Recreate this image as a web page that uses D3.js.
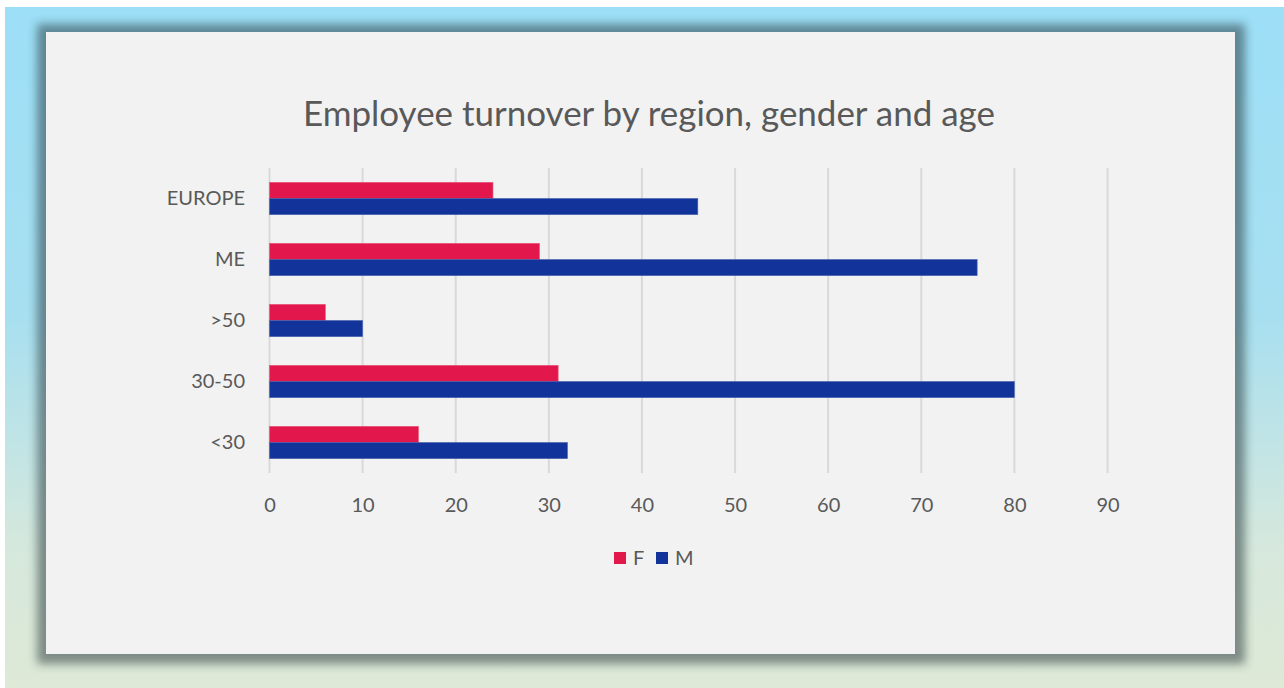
<!DOCTYPE html>
<html><head><meta charset="utf-8">
<script src="https://cdn.jsdelivr.net/npm/d3@7/dist/d3.min.js"></script>
<style>body{margin:0;background:#fff;}svg{display:block;}</style>
</head><body>
<script>
const categories = ["EUROPE", "ME", ">50", "30-50", "<30"];
const seriesNames = ["F", "M"];
const femaleValues = [24, 29, 6, 31, 16];
const maleValues = [46, 76, 10, 80, 32];
const xTicks = [0, 10, 20, 30, 40, 50, 60, 70, 80, 90];
const colors = {F: "#e2184c", M: "#12339a"};
const title = "Employee turnover by region, gender and age";

const W = 1284, H = 688;
const svg = d3.select("body").append("svg").attr("width", W).attr("height", H);
const defs = svg.append("defs");
const grad = defs.append("linearGradient").attr("id","bg").attr("x1",0).attr("y1",0).attr("x2",0).attr("y2",1);
grad.append("stop").attr("offset","0%").attr("stop-color","#9ddff7");
grad.append("stop").attr("offset","45%").attr("stop-color","#a7dff0");
grad.append("stop").attr("offset","80%").attr("stop-color","#d6e8dc");
grad.append("stop").attr("offset","100%").attr("stop-color","#dee9d6");
const blur = defs.append("filter").attr("id","blur").attr("x","-10%").attr("y","-10%").attr("width","120%").attr("height","120%");
blur.append("feGaussianBlur").attr("stdDeviation",5);

svg.append("rect").attr("x",5).attr("y",7).attr("width",W-5).attr("height",H-7).attr("fill","url(#bg)");
svg.append("rect").attr("x",37).attr("y",24).attr("width",1208).attr("height",640)
  .attr("fill","#1c2e30").attr("opacity",0.5).attr("filter","url(#blur)");
svg.append("rect").attr("x",46).attr("y",32).attr("width",1189).attr("height",622).attr("fill","#f2f2f2");

const x = d3.scaleLinear().domain([0, 90]).range([269.5, 1107.5]);
const y = d3.scaleBand().domain(categories).range([168, 473]).paddingInner(0.47).paddingOuter(0.235);
const ys = d3.scaleBand().domain(seriesNames).range([0, y.bandwidth()]);

// gridlines
svg.append("g").selectAll("line").data(xTicks).join("line")
  .attr("x1", d => x(d)).attr("x2", d => x(d)).attr("y1", 168).attr("y2", 473)
  .attr("stroke", "#d9d9d9").attr("stroke-width", 2);

const font = "Lato, 'Open Sans', sans-serif";
// x axis labels via d3 axis
const xAxis = svg.append("g").attr("transform","translate(0,473)")
  .call(d3.axisBottom(x).tickValues(xTicks).tickSize(0).tickPadding(25));
xAxis.select(".domain").remove();
xAxis.selectAll("text").attr("font-family",font).attr("font-size",20).attr("fill","#595959");

// y axis labels
const yAxis = svg.append("g").attr("transform","translate(269,0)")
  .call(d3.axisLeft(y).tickSize(0).tickPadding(24));
yAxis.select(".domain").remove();
yAxis.selectAll("text").attr("font-family",font).attr("font-size",20).attr("fill","#595959");

// bars
const rows = categories.map((c,i) => ({cat:c, F:femaleValues[i], M:maleValues[i]}));
const g = svg.append("g");
rows.forEach(r => {
  seriesNames.forEach(s => {
    g.append("rect")
      .attr("x", x(0)).attr("y", y(r.cat) + ys(s))
      .attr("width", x(r[s]) - x(0)).attr("height", ys.bandwidth())
      .attr("fill", colors[s]).attr("stroke", s==="F" ? "#e8557a" : "#4a62b0").attr("stroke-width", 0.6);
  });
});

// title
const t = svg.append("text").attr("x", 649).attr("y", 126).attr("text-anchor","middle")
  .attr("font-family",font).attr("font-size",33).attr("fill","#595959").text(title);
const tw = t.node().getComputedTextLength();
t.attr("font-size", 33 * 692 / tw);

// legend
const leg = svg.append("g").attr("font-family",font).attr("font-size",20).attr("fill","#595959");
const legX = [614, 656];
seriesNames.forEach((s,i) => {
  leg.append("rect").attr("x", legX[i]).attr("y", 552).attr("width", 12).attr("height", 12).attr("fill", colors[s]);
  leg.append("text").attr("x", legX[i] + 19).attr("y", 565).text(s);
});
</script>
</body></html>
